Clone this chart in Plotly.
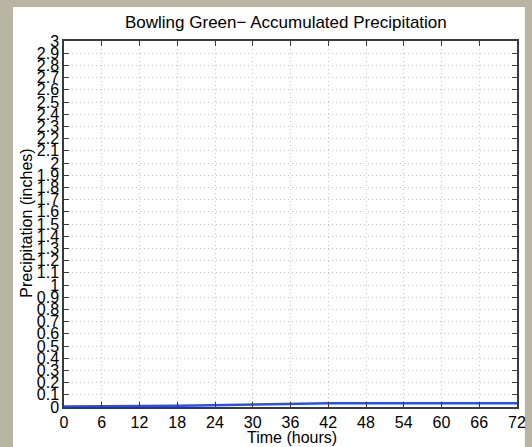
import plotly.graph_objects as go

hours = [0, 3, 6, 9, 12, 15, 18, 21, 24, 27, 30, 33, 36, 39, 42, 45, 48, 51, 54, 57, 60, 63, 66, 69, 72]
precip = [0.005, 0.005, 0.005, 0.006, 0.007, 0.008, 0.010, 0.013, 0.016, 0.020, 0.024, 0.027, 0.029,
          0.030, 0.030, 0.030, 0.030, 0.030, 0.030, 0.030, 0.030, 0.030, 0.030, 0.030, 0.030]

x_ticks = list(range(0, 73, 6))
y_ticks = [round(i * 0.1, 1) for i in range(31)]
y_labels = [f"{v:g}" for v in y_ticks]

title_text = "Bowling Green\u2212 Accumulated Precipitation"
x_title = "Time (hours)"
y_title = "Precipitation (inches)"

font = "Liberation Sans, Arial, sans-serif"

fig = go.Figure()
fig.add_trace(go.Scatter(x=hours, y=precip, mode="lines",
                         line=dict(color="#2a4ff0", width=2.5), showlegend=False))

L, R, T, B = 64, 6, 41, 40
W, H = 532, 447
pw, ph = W - L - R, H - T - B

fig.add_shape(type="rect", xref="paper", yref="paper",
              x0=(12 - L) / pw, x1=(W - L + 2) / pw,
              y0=-(B + 2) / ph, y1=(H - B - 7) / ph,
              fillcolor="white", line=dict(width=0), layer="below")

fig.add_annotation(text=y_title, xref="paper", yref="paper",
                   x=(25 - L) / pw, y=(H - B - 223) / ph, textangle=-90, showarrow=False,
                   xanchor="center", yanchor="middle",
                   font=dict(family=font, size=16, color="black"))
fig.add_annotation(text=x_title, xref="paper", yref="paper",
                   x=(297 - L) / pw, y=-(437 - (H - B)) / ph, showarrow=False,
                   xanchor="center", yanchor="middle",
                   font=dict(family=font, size=16, color="black"))
fig.add_annotation(text=title_text, xref="paper", yref="paper",
                   x=(290 - L) / pw, y=(H - B - 22) / ph, showarrow=False,
                   xanchor="center", yanchor="middle",
                   font=dict(family=font, size=17, color="black"))

axis_common = dict(showline=True, linecolor="#3a3a3a", linewidth=1.5, mirror="ticks",
                   ticks="inside", ticklen=5, tickcolor="#3a3a3a",
                   showgrid=True, gridcolor="#c4c4c4", griddash="1px,3px", gridwidth=1,
                   zeroline=False, ticklabeloverflow="allow",
                   tickfont=dict(family=font, size=16, color="black"))

fig.update_xaxes(range=[0, 72], tickmode="array", tickvals=x_ticks,
                 ticktext=[str(t) for t in x_ticks], **axis_common)
fig.update_yaxes(range=[0, 3], tickmode="array", tickvals=y_ticks,
                 ticktext=y_labels, ticklabelstandoff=0, **axis_common)

fig.update_layout(width=W, height=H, margin=dict(l=L, r=R, t=T, b=B),
                  paper_bgcolor="#b8b5a5", plot_bgcolor="white")

fig.write_html("out.html")
